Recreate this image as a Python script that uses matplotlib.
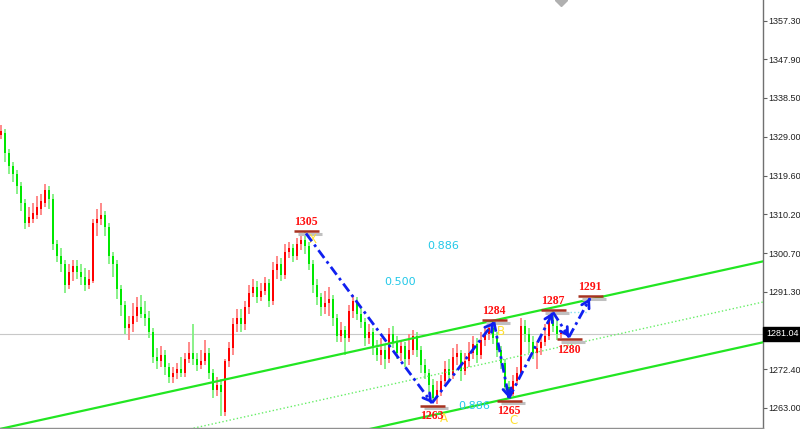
import matplotlib
matplotlib.use("Agg")
import matplotlib.pyplot as plt
import numpy as np

# ---------------- data ----------------
opens = [1329.5, 1330, 1325, 1322, 1320, 1317, 1313, 1308, 1309, 1310, 1311.5, 1313, 1316, 1314,
         1303, 1300, 1298, 1293, 1296, 1297.5, 1296, 1295, 1293, 1294, 1308, 1309, 1310, 1307,
         1300, 1298, 1292, 1288, 1282.5, 1283.5, 1285.5, 1287.5, 1286, 1285, 1281.5, 1275.5,
         1274.5, 1276, 1273, 1270.5, 1271.5, 1272.5, 1271.5, 1275, 1276.5, 1275, 1273.5, 1274.5,
         1276.5, 1271.5, 1267.5, 1268.5, 1262, 1274.5, 1277.5, 1283.5, 1285, 1283.5, 1287.5, 1291,
         1292.5, 1290, 1291.5, 1293.5, 1289, 1296.5, 1298, 1295.5, 1301, 1302, 1300, 1303, 1304,
         1302.5, 1298, 1293, 1290, 1287.5, 1288.5, 1289.5, 1285, 1280.5, 1282, 1280, 1286.5, 1289,
         1286, 1284, 1280, 1281.5, 1277.5, 1276, 1277, 1275, 1281, 1279, 1276.5, 1278, 1275, 1277,
         1280.5, 1277, 1273.5, 1271.5, 1268.5, 1265.5, 1267.5, 1269.5, 1272.5, 1271, 1275.5, 1276.5,
         1272, 1274.5, 1276.5, 1278.5, 1276, 1279.5, 1281, 1282.5, 1280, 1277, 1274, 1268, 1266.5,
         1269.5, 1271.5, 1283, 1281, 1279, 1276.5, 1277.5, 1279, 1280.5, 1284.5, 1283, 1281]
highs = [1331.8, 1331, 1326, 1323, 1321, 1318, 1314, 1312, 1313, 1314.5, 1315, 1317.5, 1317, 1315,
         1304, 1302, 1299, 1298, 1299, 1299, 1298, 1297, 1296.5, 1309, 1311.5, 1313, 1311, 1308,
         1301, 1299, 1293, 1289, 1285.5, 1288.5, 1290, 1290.5, 1289, 1286.5, 1282.5, 1277.5,
         1278, 1277, 1274, 1273, 1274, 1275.5, 1276.5, 1279, 1283.5, 1276.5, 1277, 1279.5,
         1277.5, 1272.5, 1270.5, 1270, 1275, 1279, 1285, 1287, 1287, 1289, 1293, 1294.5,
         1294, 1293.5, 1295, 1294.5, 1298.5, 1300, 1299.5, 1303, 1303.5, 1303, 1304.5, 1305.5, 1305.8,
         1303.5, 1299, 1294.5, 1291, 1291.5, 1292.5, 1290.5, 1286, 1284, 1283, 1288, 1290.5,
         1290, 1287.5, 1285, 1283.5, 1282.5, 1279.5, 1280, 1278.5, 1282.5, 1283, 1280.5, 1279.5, 1279, 1281,
         1282, 1281.5, 1278, 1275, 1272.5, 1270, 1269.5, 1271, 1274.5, 1275, 1277.5, 1278.5,
         1277, 1276.5, 1279, 1280.5, 1280, 1281.5, 1283, 1284, 1283.8, 1281.5, 1278, 1275, 1269.5,
         1271, 1273, 1285, 1284.5, 1282.5, 1280.5, 1279, 1281, 1283.5, 1286, 1286.8, 1284.5, 1282]
lows = [1328.5, 1323, 1320, 1318, 1315, 1311, 1306.5, 1307, 1308, 1309, 1310, 1312, 1311.5, 1301.5,
        1298.5, 1296, 1291, 1292, 1294, 1294.5, 1293, 1291.5, 1292, 1293.5, 1305, 1307.5, 1305, 1298,
        1295, 1289.5, 1285.5, 1281, 1279.5, 1281.5, 1284, 1285, 1283, 1280, 1274, 1272.5,
        1273, 1271, 1269, 1269, 1270, 1270.5, 1270.5, 1274, 1273.5, 1272, 1272.5, 1273.5,
        1270, 1265.5, 1266, 1261, 1261, 1273, 1276, 1281.5, 1281.5, 1282, 1286, 1290,
        1288.5, 1289, 1290.5, 1287.5, 1288, 1294.5, 1294, 1294.5, 1299.5, 1298.5, 1299, 1301.5, 1300.5,
        1296.5, 1291, 1288, 1285.5, 1286, 1285.5, 1283, 1279, 1279, 1276, 1279, 1285,
        1284.5, 1282.5, 1278, 1278.5, 1276, 1274.5, 1273.5, 1272.5, 1274, 1277.5, 1275, 1274.5, 1273, 1273.5,
        1276, 1275.5, 1271.5, 1270, 1267, 1264.5, 1264, 1266, 1268.5, 1269.5, 1270, 1273.5,
        1269.5, 1271, 1273, 1275, 1274, 1275, 1278, 1279.5, 1278.5, 1275.5, 1272.5, 1267, 1265.2,
        1265.8, 1268.5, 1271, 1279, 1276.5, 1275, 1272.5, 1276, 1278, 1279.5, 1281.5, 1279.5, 1280]
closes = [1330.5, 1325, 1322, 1320, 1317, 1313, 1308, 1309.5, 1310.5, 1312, 1313.5, 1316, 1314, 1303,
          1300, 1298, 1293, 1296, 1297.5, 1296, 1295, 1293, 1294.5, 1308, 1309, 1310, 1307, 1300,
          1298, 1292, 1288, 1282.5, 1283.5, 1285.5, 1287.5, 1286, 1285, 1281.5, 1275.5, 1274.5,
          1276, 1273, 1270.5, 1271.5, 1272.5, 1271.5, 1275, 1276.5, 1275, 1273.5, 1274.5, 1276.5,
          1271.5, 1267.5, 1268.5, 1267, 1274.5, 1277.5, 1283.5, 1285, 1283.5, 1287.5, 1291, 1292.5,
          1290, 1291.5, 1293.5, 1289, 1296.5, 1298, 1295.5, 1301, 1302, 1300, 1303, 1304, 1302.5,
          1298, 1293, 1290, 1287.5, 1288.5, 1289.5, 1285, 1280.5, 1282, 1280, 1286.5, 1289,
          1286, 1284, 1280, 1281.5, 1277.5, 1276, 1277, 1275, 1281, 1279, 1276.5, 1278, 1275, 1277,
          1280.5, 1277, 1273.5, 1271.5, 1268.5, 1265.5, 1267.5, 1269.5, 1272.5, 1271, 1275.5, 1276.5,
          1272, 1274.5, 1276.5, 1278.5, 1276, 1279.5, 1281, 1282.5, 1280, 1277, 1274, 1268, 1266.5,
          1269.5, 1271.5, 1283, 1281, 1279, 1276.5, 1277.5, 1279, 1280.5, 1284.5, 1283, 1281, 1281.04]

# wave pivots (bar index, price, label)
pivot_idx = [76.25, 107.75, 123.25, 127.0, 138.0, 142.0, 147.25]
pivot_price = [1305.5, 1264.2, 1283.9, 1265.4, 1286.3, 1280.3, 1289.7]
pivot_labels = ["1305", "1263", "1284", "1265", "1287", "1280", "1291"]
pivot_above = [True, False, True, False, True, False, True]

# channel lines: (idx0, price0, idx1, price1)
chan_upper = [-0.25, 1257.9, 190.5, 1298.7]
chan_lower = [92.25, 1257.9, 190.5, 1279.0]
chan_mid = [47.25, 1257.9, 190.5, 1288.8]

fib_labels = ["0.886", "0.500", "0.886"]
fib_idx = [110.5, 99.75, 118.25]
fib_price = [1302.5, 1293.7, 1263.6]

letters = ["X", "A", "B", "C"]
letter_idx = [77.8, 110.8, 125.0, 128.2]
letter_price = [1304.0, 1260.5, 1281.6, 1260.0]

current_price = 1281.04
ytick_vals = [1357.30, 1347.90, 1338.50, 1329.00, 1319.60, 1310.20, 1300.70, 1291.30,
              1281.90, 1272.40, 1263.00]

# ---------------- figure ----------------
W, H = 800, 429
fig = plt.figure(figsize=(W / 100, H / 100), dpi=100)
ax = fig.add_axes([0, 1 / H, 763 / W, 428 / H])
ax.set_xlim(-0.25, 190.5)
ax.set_ylim(1258.13, 1362.34)

o = np.array(opens); h = np.array(highs); l = np.array(lows); c = np.array(closes)
idx = np.arange(len(c))
up = c >= o
# wicks
ax.vlines(idx[up], l[up], h[up], color="#ff8080", lw=1.3, zorder=2)
ax.vlines(idx[~up], l[~up], h[~up], color="#80f080", lw=1.3, zorder=2)
# bodies
ax.bar(idx[up], np.maximum(c[up] - o[up], 0.35), bottom=o[up], width=0.62,
       color="#ff0000", lw=0, zorder=3)
ax.bar(idx[~up], np.maximum(o[~up] - c[~up], 0.35), bottom=c[~up], width=0.62,
       color="#00e800", lw=0, zorder=3)

# current price line
ax.axhline(current_price, color="#c8c8c8", lw=0.8, zorder=1)

# channel
for ln, ls in [(chan_upper, "-"), (chan_lower, "-"), (chan_mid, ":")]:
    ax.plot([ln[0], ln[2]], [ln[1], ln[3]], color="#22e622" if ls == "-" else "#66ee66",
            lw=1.6 if ls == "-" else 1.0, ls=ls, zorder=4, clip_on=True)

# small cyan dotted near 1287
ax.plot([pivot_idx[4] + 1.5, pivot_idx[6] - 0.5], [pivot_price[4], pivot_price[4]],
        color="#7fe0ee", lw=1.0, ls=":", zorder=4)

# label markers and text
for i, (xi, pi, lab, ab) in enumerate(zip(pivot_idx, pivot_price, pivot_labels, pivot_above)):
    lvl = pi + (0.6 if ab else -0.6)
    ax.plot([xi - 2.0, xi + 4.0], [lvl - 0.7, lvl - 0.7], color="#c0c0c0", lw=2.2,
            zorder=5, solid_capstyle="butt")
    ax.plot([xi - 3.0, xi + 3.2], [lvl, lvl], color="#a83220", lw=1.8, zorder=6,
            solid_capstyle="butt")
    ax.annotate(lab, (xi, lvl), xytext=(0, 2 if ab else -3), textcoords="offset points",
                ha="center", va="bottom" if ab else "top", color="#ff1010",
                fontsize=8.5, fontweight="bold", family="Liberation Serif", zorder=8)

for t, xi, pi in zip(letters, letter_idx, letter_price):
    ax.text(xi, pi, t, color="#ffe030", fontsize=8.5, ha="center", va="center", zorder=5)

# wave arrows
for k in range(len(pivot_idx) - 1):
    x0, y0 = pivot_idx[k], pivot_price[k]
    x1, y1 = pivot_idx[k + 1], pivot_price[k + 1]
    ax.plot([x0, x1], [y0, y1], color="#1020f0", lw=2.0, dashes=(3.5, 1.5, 1, 1.5), zorder=7)
    ax.annotate("", xy=(x1, y1), xytext=(x1 - (x1 - x0) * 0.02, y1 - (y1 - y0) * 0.02),
                arrowprops=dict(arrowstyle="->,head_length=0.5,head_width=0.3",
                                color="#1020f0", lw=2.0), zorder=7)

for t, xi, pi in zip(fib_labels, fib_idx, fib_price):
    ax.text(xi, pi, t, color="#22c8e8", fontsize=8, ha="center", va="center",
            family="DejaVu Sans", zorder=8)

# axes styling
ax.set_xticks([])
ax.yaxis.tick_right()
ax.set_yticks(ytick_vals)
ax.set_yticklabels([f"{v:.2f}" for v in ytick_vals], fontsize=6.5, family="Liberation Sans",
                   color="#202020")
ax.tick_params(axis="y", direction="out", length=3, width=0.8, color="#606060", pad=1)
for s in ["top", "left"]:
    ax.spines[s].set_visible(False)
ax.spines["right"].set_color("#707070")
ax.spines["right"].set_linewidth(1.0)
ax.spines["bottom"].set_color("#909090")
ax.spines["bottom"].set_linewidth(1.0)

# current price box
ax.annotate(f"{current_price:.2f}", xy=(1.0, current_price), xycoords=("axes fraction", "data"),
            xytext=(2.2, 0), textcoords="offset points", ha="left", va="center",
            fontsize=6.5, family="Liberation Sans", color="white", annotation_clip=False,
            bbox=dict(boxstyle="square,pad=0.3", fc="black", ec="black"), zorder=10)

# grey marker at top
ax.plot([140], [1362.3], marker="D", color="#b0b0b0", ms=6, clip_on=True, zorder=3)

fig.savefig("out.png", dpi=100)
